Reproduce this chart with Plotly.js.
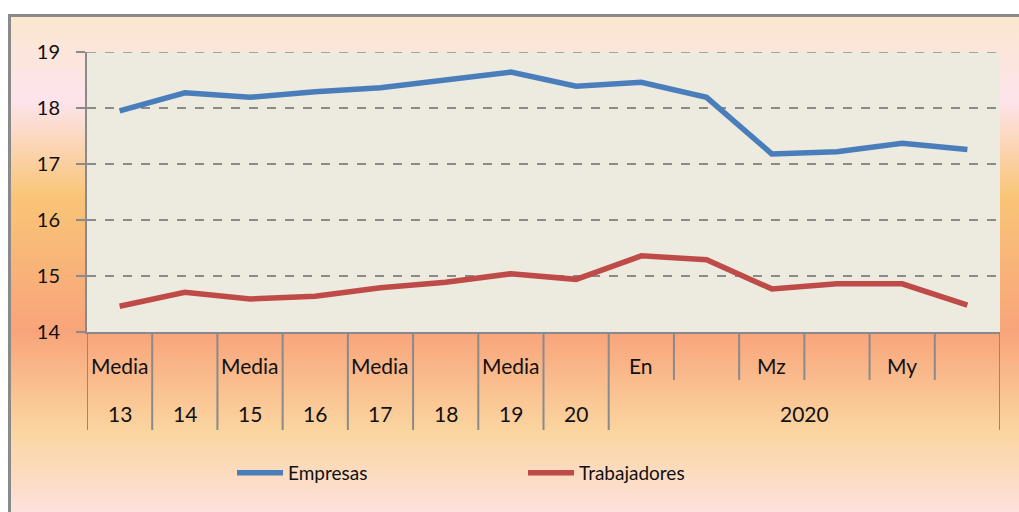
<!DOCTYPE html>
<html>
<head>
<meta charset="utf-8">
<script src="https://cdn.plot.ly/plotly-3.0.1.min.js"></script>
<style>
  html, body { margin:0; padding:0; background:#ffffff; width:1019px; height:512px; overflow:hidden; }
  #frame {
    position:absolute; left:8px; top:14px; width:1030px; height:520px;
    border-left:3px solid #8a8a8a; border-top:3px solid #8a8a8a;
    background: linear-gradient(to bottom,
      #FBE7CE 0px, #FDE4EC 84px, #F9C577 179px, #F8A47A 314px,
      #FBD5A0 414px, #FDE1DD 496px);
  }
  #chart { position:absolute; left:0; top:0; width:1019px; height:512px; }
</style>
</head>
<body>
<div id="frame"></div>
<div id="chart"></div>
<script>
// ---- data ----
const topLabels = ["Media","","Media","","Media","","Media","","En","","Mz","","My",""];
const groupLabels = ["13","14","15","16","17","18","19","20","2020"];
const groupSpans  = [1,1,1,1,1,1,1,1,6];
const empresas      = [17.95,18.27,18.19,18.29,18.36,18.50,18.64,18.39,18.46,18.19,17.18,17.22,17.37,17.26];
const trabajadores  = [14.46,14.71,14.59,14.64,14.79,14.89,15.04,14.94,15.36,15.29,14.77,14.86,14.86,14.48];
const yTicks = [14,15,16,17,18,19];

// ---- layout geometry ----
const W = 1019, H = 512;
const mL = 87, mR = 19, mT = 52, mB = 180;
const plotH = H - mT - mB;            // 280
const row1 = -48 / plotH;             // end of first label row
const row2 = -98 / plotH;             // end of second label row
const n = topLabels.length;
const xs = topLabels.map((_, i) => i + 0.5);

const font = "Lato, 'Open Sans', sans-serif";
const grey = "#8a8a8a";

const shapes = [];
const annotations = [];

// top gridline at the range maximum
const yMax = Math.max(...yTicks);
shapes.push({type:"line", xref:"paper", yref:"y", x0:0, x1:1, y0:yMax, y1:yMax,
  line:{color:grey, width:1.5, dash:"dash"}, layer:"below"});

// group boundaries
const groupEdges = [0];
groupSpans.forEach(s => groupEdges.push(groupEdges[groupEdges.length-1] + s));

for (let b = 0; b <= n; b++) {
  const isGroup = groupEdges.includes(b);
  shapes.push({type:"line", xref:"x", yref:"paper", x0:b, x1:b, y0:0, y1: isGroup ? row2 : row1,
    line:{color:grey, width:2}, layer:"above"});
}
topLabels.forEach((t, i) => {
  if (!t) return;
  annotations.push({xref:"x", yref:"paper", x:xs[i], y:-33/plotH, text:t, showarrow:false,
    xanchor:"center", yanchor:"middle", font:{family:font, size:21, color:"#111"}});
});
groupLabels.forEach((t, g) => {
  const c = (groupEdges[g] + groupEdges[g+1]) / 2;
  annotations.push({xref:"x", yref:"paper", x:c, y:-81/plotH, text:t, showarrow:false,
    xanchor:"center", yanchor:"middle", font:{family:font, size:21, color:"#111"}});
});

const traces = [
  {x:xs, y:empresas, name:"Empresas", type:"scatter", mode:"lines",
   line:{color:"#4A7EBB", width:5.5}},
  {x:xs, y:trabajadores, name:"Trabajadores", type:"scatter", mode:"lines",
   line:{color:"#BE4B48", width:5.5}}
];

const layout = {
  width:W, height:H,
  margin:{l:mL, r:mR, t:mT, b:mB, pad:0},
  paper_bgcolor:"rgba(0,0,0,0)",
  plot_bgcolor:"#EDEAE0",
  showlegend:true,
  legend:{orientation:"h", x:(232-mL)/(W-mL-mR), xanchor:"left", y:-141/plotH, yanchor:"middle",
    entrywidth:230, entrywidthmode:"pixels", itemwidth:46,
    font:{family:font, size:19, color:"#111"}, bgcolor:"rgba(0,0,0,0)"},
  xaxis:{range:[0,n], showticklabels:false, showgrid:false, zeroline:false, ticks:"",
    showline:true, linecolor:grey, linewidth:2, fixedrange:true},
  yaxis:{range:[14,19], tickvals:yTicks, ticktext:yTicks.map(String),
    showgrid:true, gridcolor:grey, gridwidth:1.5, griddash:"dash",
    zeroline:false, showline:true, linecolor:grey, linewidth:2,
    ticks:"outside", ticklen:9, tickcolor:grey, tickwidth:1.5, ticklabelstandoff:12,
    tickfont:{family:font, size:20, color:"#111"}, fixedrange:true},
  shapes:shapes,
  annotations:annotations
};

Plotly.newPlot("chart", traces, layout, {displayModeBar:false, staticPlot:true});
</script>
</body>
</html>
